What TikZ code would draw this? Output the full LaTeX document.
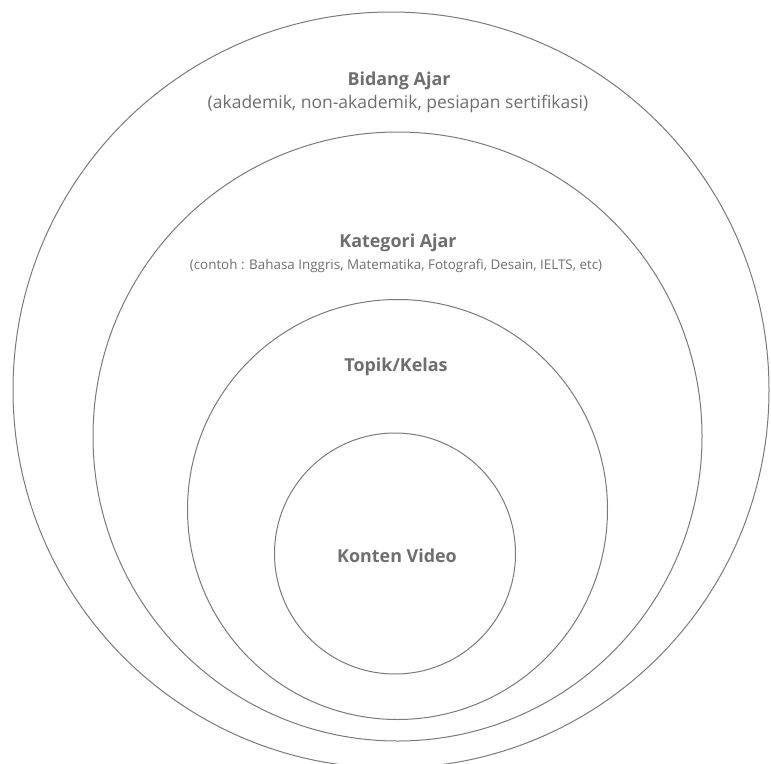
\documentclass[tikz,border=0pt]{standalone}
\usepackage{fontspec}
\setmainfont{Open Sans}
\definecolor{ringcol}{HTML}{7A7A7A}
\definecolor{txtcol}{HTML}{6E6E6E}
\tikzset{
  ring/.style={draw=ringcol, line width=1pt},
  ttl/.style={text=txtcol, font=\bfseries\fontsize{17.9}{21}\selectfont, inner sep=0pt},
  sub/.style={text=txtcol, font=\fontsize{17.5}{21}\selectfont, inner sep=0pt},
  subsmall/.style={text=txtcol, font=\fontsize{13.4}{16}\selectfont, inner sep=0pt}
}
\begin{document}
\begin{tikzpicture}[x=1pt,y=-1pt]
\useasboundingbox (0,0) rectangle (771,763);
\begin{scope}
\clip (0,0) rectangle (771,763);
\draw[ring] (391,390) circle (378);
\draw[ring] (397.5,436.5) circle (304.5);
\draw[ring] (397.5,509.5) circle (210);
\draw[ring] (395,553.5) circle (120.5);
\end{scope}
\node[ttl] (bidang) at (399,81) {Bidang Ajar};
\node[sub] (bidangsub) at (398,104) {(akademik, non-akademik, pesiapan sertifikasi)};
\node[ttl] (kategori) at (398,243) {Kategori Ajar};
\node[subsmall] (kategorisub) at (396,266) {(contoh : Bahasa Inggris, Matematika, Fotografi, Desain, IELTS, etc)};
\node[ttl] (topik) at (396,367) {Topik/Kelas};
\node[ttl] (konten) at (397,556) {Konten Video};
\end{tikzpicture}
\end{document}
